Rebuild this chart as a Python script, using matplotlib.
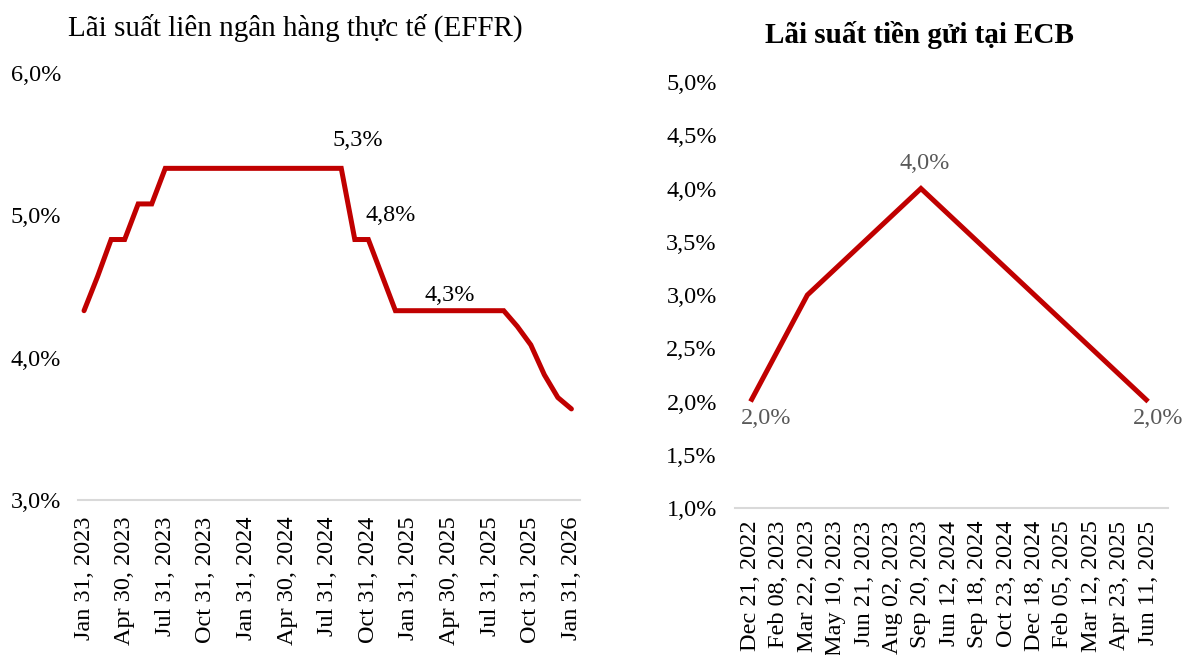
import numpy as np
import matplotlib
matplotlib.use("Agg")
import matplotlib.pyplot as plt
from matplotlib.ticker import FuncFormatter

plt.rcParams['font.family'] = ['Liberation Serif', 'DejaVu Serif']

# EFFR, month-end values (%)
months = ["Jan 31, 2023", "Feb 28, 2023", "Mar 31, 2023", "Apr 30, 2023", "May 31, 2023", "Jun 30, 2023",
          "Jul 31, 2023", "Aug 31, 2023", "Sep 30, 2023", "Oct 31, 2023", "Nov 30, 2023", "Dec 31, 2023",
          "Jan 31, 2024", "Feb 29, 2024", "Mar 31, 2024", "Apr 30, 2024", "May 31, 2024", "Jun 30, 2024",
          "Jul 31, 2024", "Aug 31, 2024", "Sep 30, 2024", "Oct 31, 2024", "Nov 30, 2024", "Dec 31, 2024",
          "Jan 31, 2025", "Feb 28, 2025", "Mar 31, 2025", "Apr 30, 2025", "May 31, 2025", "Jun 30, 2025",
          "Jul 31, 2025", "Aug 31, 2025", "Sep 30, 2025", "Oct 31, 2025", "Nov 30, 2025", "Dec 31, 2025",
          "Jan 31, 2026"]
effr = [4.33, 4.57, 4.83, 4.83, 5.08, 5.08,
        5.33, 5.33, 5.33, 5.33, 5.33, 5.33,
        5.33, 5.33, 5.33, 5.33, 5.33, 5.33,
        5.33, 5.33, 4.83, 4.83, 4.58, 4.33,
        4.33, 4.33, 4.33, 4.33, 4.33, 4.33,
        4.33, 4.33, 4.22, 4.09, 3.88, 3.72,
        3.64]
effr_labels = {19: "5,3%", 21: "4,8%", 27: "4,3%"}

# ECB deposit facility rate (%)
ecb_dates = ["Dec 21, 2022", "Feb 08, 2023", "Mar 22, 2023", "May 10, 2023", "Jun 21, 2023",
             "Aug 02, 2023", "Sep 20, 2023", "Jun 12, 2024", "Sep 18, 2024", "Oct 23, 2024",
             "Dec 18, 2024", "Feb 05, 2025", "Mar 12, 2025", "Apr 23, 2025", "Jun 11, 2025"]
ecb = [2.0, 2.5, 3.0, 3.25, 3.5, 3.75, 4.0, 3.75, 3.5, 3.25, 3.0, 2.75, 2.5, 2.25, 2.0]
ecb_labels = {0: "2,0%", 6: "4,0%", 14: "2,0%"}

red = "#C00000"
fs = 17.5
tfs = 21

def pct(v, pos):
    return f"{v:.1f}%".replace(".", ",")

def style(ax):
    for s in ["top", "right", "left"]:
        ax.spines[s].set_visible(False)
    ax.spines["bottom"].set_color("#D9D9D9")
    ax.spines["bottom"].set_linewidth(1.5)
    ax.tick_params(length=0, labelsize=fs)
    ax.yaxis.set_major_formatter(FuncFormatter(pct))

fig = plt.figure(figsize=(11.9, 6.55), dpi=100)

# left: EFFR
ax1 = fig.add_axes([0.0655, 0.2366, 0.4215, 0.652])
x1 = np.arange(len(effr))
ax1.plot(x1, effr, color=red, lw=3.6, solid_capstyle="round", solid_joinstyle="miter")
ax1.set_ylim(3.0, 6.0)
ax1.set_yticks([3.0, 4.0, 5.0, 6.0])
ax1.set_xlim(-0.45, 36.6)
ax1.set_xticks(x1[::3])
ax1.set_xticklabels(months[::3], rotation=90)
style(ax1)
ax1.tick_params(axis="y", pad=12)
ax1.tick_params(axis="x", pad=12)
offs1 = {19: (12, 20), 21: (16, 17), 27: (0, 11)}
for i, t in effr_labels.items():
    ax1.annotate(t, (x1[i], effr[i]), xytext=offs1[i], textcoords="offset points",
                 ha="center", va="center", fontsize=fs, color="black")
fig.text(0.057, 0.958, "Lãi suất liên ngân hàng thực tế (EFFR)", fontsize=tfs,
         ha="left", va="center")

# right: ECB
ax2 = fig.add_axes([0.6176, 0.2244, 0.3639, 0.6504])
x2 = np.arange(len(ecb))
ax2.plot(x2, ecb, color=red, lw=3.6, solid_capstyle="butt", solid_joinstyle="miter")
ax2.set_ylim(1.0, 5.0)
ax2.set_yticks(np.arange(1.0, 5.01, 0.5))
ax2.set_xlim(-0.55, 14.7)
ax2.set_xticks(x2)
ax2.set_xticklabels(ecb_dates, rotation=90)
style(ax2)
ax2.tick_params(axis="y", pad=13)
ax2.tick_params(axis="x", pad=9)
offs2 = {0: (11, -12), 6: (3, 18), 14: (7, -12)}
for i, t in ecb_labels.items():
    ax2.annotate(t, (x2[i], ecb[i]), xytext=offs2[i], textcoords="offset points",
                 ha="center", va="center", fontsize=fs, color="#595959")
fig.text(0.773, 0.946, "Lãi suất tiền gửi tại ECB", fontsize=tfs, fontweight="bold",
         ha="center", va="center")

fig.savefig("out.png", dpi=100)
